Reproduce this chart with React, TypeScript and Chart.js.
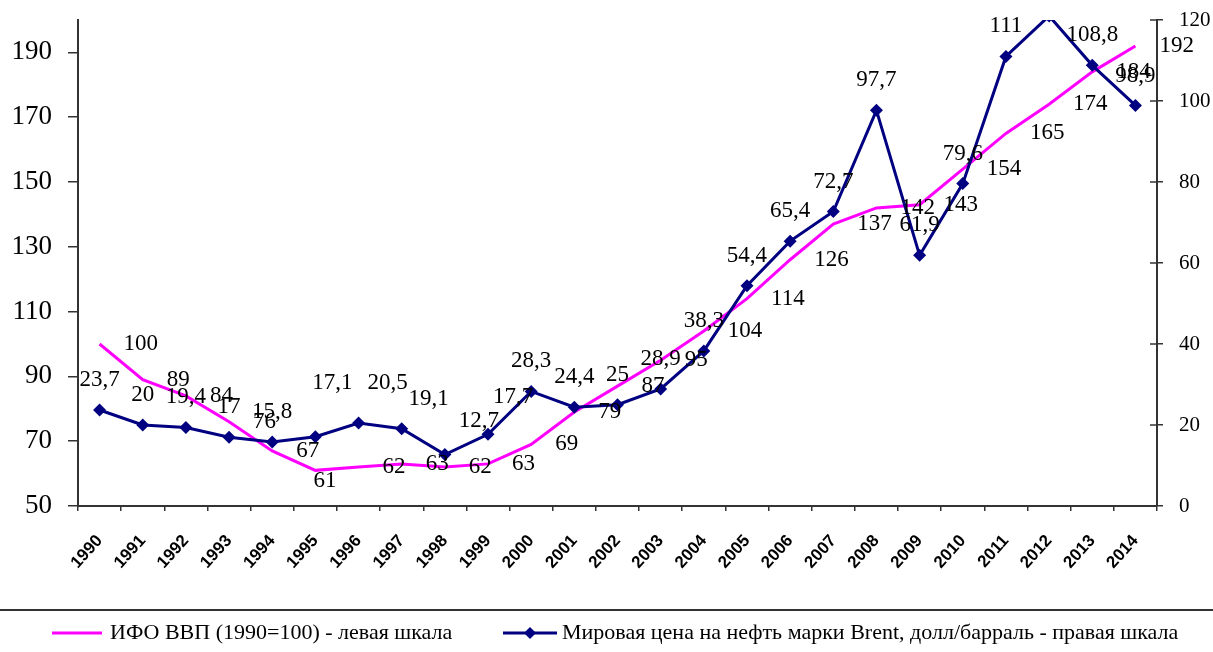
import React, { useEffect, useRef } from 'react';
import { Chart, registerables } from 'chart.js';

Chart.register(...registerables);

// ---- data ----
const years: string[] = [
  '1990', '1991', '1992', '1993', '1994', '1995', '1996', '1997', '1998', '1999',
  '2000', '2001', '2002', '2003', '2004', '2005', '2006', '2007', '2008', '2009',
  '2010', '2011', '2012', '2013', '2014',
];
const gdpIndex: number[] = [
  100, 89, 84, 76, 67, 61, 62, 63, 62, 63,
  69, 79, 87, 95, 104, 114, 126, 137, 142, 143,
  154, 165, 174, 184, 192,
];
const brentPrice: number[] = [
  23.7, 20, 19.4, 17, 15.8, 17.1, 20.5, 19.1, 12.7, 17.7,
  28.3, 24.4, 25, 28.9, 38.3, 54.4, 65.4, 72.7, 97.7, 61.9,
  79.6, 111, 121, 108.8, 98.9,
];
const leftTicks: number[] = [50, 70, 90, 110, 130, 150, 170, 190];
const rightTicks: number[] = [0, 20, 40, 60, 80, 100, 120];
const gdpLabel = 'ИФО ВВП (1990=100) - левая шкала';
const brentLabel = 'Мировая цена на нефть марки Brent, долл/барраль - правая шкала';

// ---- styles ----
const PINK = '#FF00FF';
const NAVY = '#000080';
const AXIS = '#333333';
const SERIF = "'Liberation Serif', 'Times New Roman', serif";
const SANS = "'Liberation Sans', Arial, sans-serif";

// label nudges (style): [dx, dy] relative to the point
const pinkNudgeDefault: [number, number] = [24, 0];
const pinkNudge: Record<number, [number, number]> = { 5: [-2, 11] };
const navyNudgeDefault: [number, number] = [0, -30];
const navyNudge: Record<number, [number, number]> = {
  5: [17, -54],
  6: [29, -40],
  7: [27, -30],
  8: [34, -34],
  9: [25, -37],
};

const fmt = (v: number) => String(v).replace('.', ',');

const labelsPlugin = {
  id: 'valueLabels',
  afterDatasetsDraw(chart: any) {
    const ctx = chart.ctx;
    const area = chart.chartArea;
    ctx.save();
    ctx.font = `23px ${SERIF}`;
    ctx.fillStyle = '#000';
    ctx.textBaseline = 'middle';
    const m0 = chart.getDatasetMeta(0);
    m0.data.forEach((pt: any, i: number) => {
      const n = pinkNudge[i] || pinkNudgeDefault;
      ctx.textAlign = 'left';
      ctx.fillText(fmt(gdpIndex[i]), pt.x + n[0], pt.y + n[1]);
    });
    const m1 = chart.getDatasetMeta(1);
    m1.data.forEach((pt: any, i: number) => {
      if (pt.y < area.top) return;
      const n = navyNudge[i] || navyNudgeDefault;
      ctx.textAlign = 'center';
      ctx.fillText(fmt(brentPrice[i]), pt.x + n[0], pt.y + n[1]);
    });
    ctx.restore();
  },
};

const decorPlugin = {
  id: 'decor',
  afterDraw(chart: any) {
    const ctx = chart.ctx;
    const y1 = chart.scales.y1;
    const area = chart.chartArea;
    ctx.save();
    // inner tick marks on the right axis
    ctx.strokeStyle = AXIS;
    ctx.lineWidth = 1.5;
    y1.ticks.forEach((t: any) => {
      const y = y1.getPixelForValue(t.value);
      ctx.beginPath();
      ctx.moveTo(area.right - 7, y);
      ctx.lineTo(area.right, y);
      ctx.stroke();
    });
    // separator line above legend
    ctx.lineWidth = 2;
    ctx.beginPath();
    ctx.moveTo(0, 610);
    ctx.lineTo(chart.width, 610);
    ctx.stroke();
    // legend
    const ly = 633;
    ctx.lineWidth = 3;
    ctx.strokeStyle = PINK;
    ctx.beginPath();
    ctx.moveTo(52, ly);
    ctx.lineTo(102, ly);
    ctx.stroke();
    ctx.strokeStyle = NAVY;
    ctx.beginPath();
    ctx.moveTo(503, ly);
    ctx.lineTo(557, ly);
    ctx.stroke();
    ctx.fillStyle = NAVY;
    ctx.beginPath();
    ctx.moveTo(530, ly - 6);
    ctx.lineTo(536, ly);
    ctx.lineTo(530, ly + 6);
    ctx.lineTo(524, ly);
    ctx.closePath();
    ctx.fill();
    ctx.fillStyle = '#000';
    ctx.font = `22px ${SERIF}`;
    ctx.textAlign = 'left';
    ctx.textBaseline = 'middle';
    ctx.fillText(gdpLabel, 110, ly);
    ctx.fillText(brentLabel, 562, ly);
    ctx.restore();
  },
};

const noPad = (s: any) => {
  s.paddingTop = 0;
  s.paddingBottom = 0;
  s.paddingLeft = 0;
  s.paddingRight = 0;
};

export default function App() {
  const ref = useRef<HTMLCanvasElement | null>(null);

  useEffect(() => {
    if (!ref.current) return;
    Chart.defaults.font.family = SERIF;
    const chart = new Chart(ref.current, {
      type: 'line',
      data: {
        labels: years,
        datasets: [
          {
            label: gdpLabel,
            data: gdpIndex,
            yAxisID: 'y',
            borderColor: PINK,
            backgroundColor: PINK,
            borderWidth: 3,
            pointRadius: 0,
            tension: 0,
            order: 2,
          },
          {
            label: brentLabel,
            data: brentPrice,
            yAxisID: 'y1',
            borderColor: NAVY,
            backgroundColor: NAVY,
            borderWidth: 3,
            pointStyle: 'rectRot',
            pointRadius: 6.5,
            pointBackgroundColor: NAVY,
            pointBorderColor: NAVY,
            pointBorderWidth: 0,
            tension: 0,
            clip: 0,
            order: 1,
          },
        ],
      },
      options: {
        responsive: false,
        animation: false,
        events: [],
        layout: { padding: { top: 20, left: 0, right: 0, bottom: 0 } },
        plugins: {
          legend: { display: false },
          tooltip: { enabled: false },
          title: { display: false },
        },
        scales: {
          x: {
            type: 'category',
            offset: true,
            grid: { offset: true, drawOnChartArea: false, tickLength: 5, color: AXIS, lineWidth: 1.5 },
            border: { display: true, color: AXIS, width: 2 },
            ticks: {
              autoSkip: false,
              minRotation: 48,
              maxRotation: 48,
              padding: 20,
              color: '#000',
              font: { family: SANS, size: 17, weight: 'bold' },
            },
            afterFit: (s: any) => { s.height = 146; noPad(s); },
          },
          y: {
            position: 'left',
            min: 50,
            max: 200,
            grid: { drawOnChartArea: false, tickLength: 10, color: AXIS, lineWidth: 1.5 },
            border: { display: true, color: AXIS, width: 2 },
            ticks: { color: '#000', padding: 16, font: { family: SERIF, size: 27 } },
            afterBuildTicks: (s: any) => { s.ticks = leftTicks.map((v) => ({ value: v })); },
            afterFit: (s: any) => { s.width = 78; noPad(s); },
          },
          y1: {
            position: 'right',
            min: 0,
            max: 120,
            grid: { drawOnChartArea: false, tickLength: 6, color: AXIS, lineWidth: 1.5 },
            border: { display: true, color: AXIS, width: 2 },
            ticks: { color: '#000', padding: 16, font: { family: SERIF, size: 21 } },
            afterBuildTicks: (s: any) => { s.ticks = rightTicks.map((v) => ({ value: v })); },
            afterFit: (s: any) => { s.width = 56; noPad(s); },
          },
        },
      },
      plugins: [labelsPlugin, decorPlugin],
    } as any);
    return () => chart.destroy();
  }, []);

  return (
    <div style={{ position: 'absolute', left: 0, top: 0, width: 1213, height: 652, background: '#fff' }}>
      <canvas ref={ref} width={1213} height={652} style={{ display: 'block', width: 1213, height: 652 }} />
    </div>
  );
}
